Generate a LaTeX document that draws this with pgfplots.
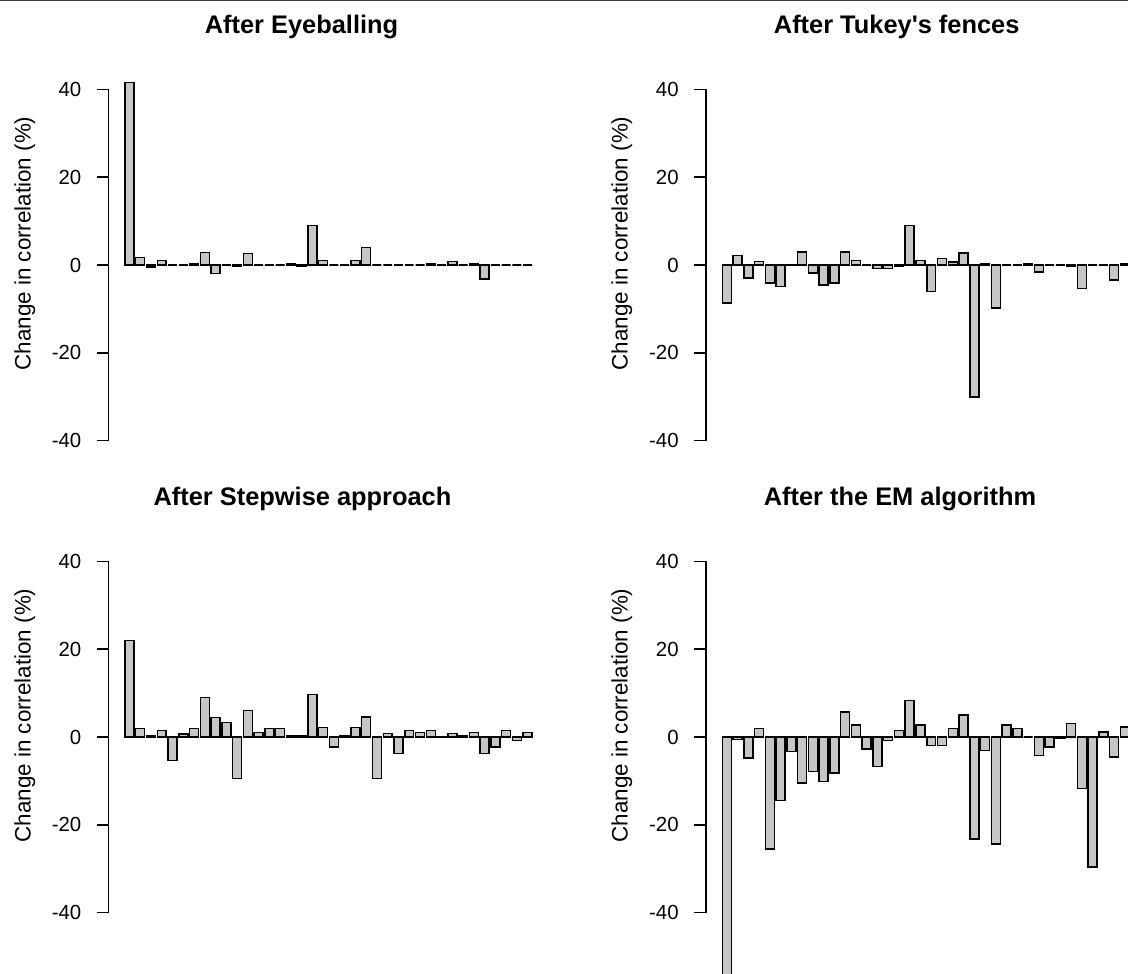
\documentclass[border=0pt]{standalone}
\usepackage{fontspec}
\setmainfont{Liberation Sans}
\usepackage{pgfplots}
\usepackage{pgfplotstable}
\pgfplotsset{compat=1.18}
\definecolor{barfill}{RGB}{198,198,198}
\pgfplotstableread{
x    a      b      c      d
0.7  41.5   -8.7   22.0   -57
1.9  1.75   2.2    1.9    -0.6
3.1  -0.5   -3.0   0.2    -4.8
4.3  1.07   0.84   1.45   1.9
5.5  0      -4.1   -5.3   -25.5
6.7  0      -4.9   0.7    -14.5
7.9  0.3    0.1    1.9    -3.3
9.1  2.9    3.0    9.0    -10.5
10.3 -1.9   -1.8   4.4    -7.8
11.5 0      -4.5   3.35   -10.1
12.7 -0.3   -4.1   -9.45  -8.2
13.9 2.6    3.0    6.0    5.7
15.1 0      1.07   1.07   2.7
16.3 0      0      1.9    -2.7
17.5 0      -0.76  1.9    -6.7
18.7 0.2    -0.76  0.2    -0.76
19.9 -0.3   -0.3   0.2    1.5
21.1 9.0    9.0    9.7    8.3
22.3 1.07   1.07   2.2    2.7
23.5 0      -6.0   -2.3   -1.9
24.7 0      1.45   0.3    -1.9
25.9 1.07   0.7    2.2    1.9
27.1 4.0    2.7    4.5    5.0
28.3 0      -30    -9.45  -23.2
29.5 0      0.3    0.76   -3.05
30.7 0      -9.8   -3.8   -24.4
31.9 0      0      1.45   2.7
33.1 0      0      1.07   1.9
34.3 0.3    0.3    1.45   0
35.5 0      -1.6   0.1    -4.2
36.7 0.76   0      0.76   -2.3
37.9 0      0      0.3    -0.3
39.1 0.3    -0.3   1.07   3.05
40.3 -3.2   -5.3   -3.8   -11.7
41.5 0      0      -2.3   -29.6
42.7 0      0      1.45   1.1
43.9 0      -3.4   -0.76  -4.6
45.1 0      0.3    1.07   2.3
}\data
\pgfplotsset{
  panel/.style={
    scale only axis, width=219.85pt, height=175.7pt,
    xmin=-1.616, xmax=47.416, ymin=-40, ymax=40, clip=false,
    axis x line=none, axis y line*=left,
    axis line style={line width=0.75pt,-,black},
    ytick={-40,-20,0,20,40},
    tick align=outside, major tick length=6pt,
    ytick style={line width=0.75pt,black},
    yticklabel style={font=\fontsize{10.2}{12}\selectfont, inner sep=0pt, anchor=east, xshift=-7.5pt},
    /pgf/number format/assume math mode=true,
    anchor=south west,
  },
  bars/.style={ybar, bar width=1, bar shift=0pt, fill=barfill, draw=black, line width=0.75pt},
}
\begin{document}
\begin{tikzpicture}[x=0.5pt,y=0.5pt]
\useasboundingbox (0,0) rectangle (1128,973);
\clip (0,0) rectangle (1128,973);
\fill[white] (0,0) rectangle (1128,973);
\draw[line width=0.75pt, black!75] (0,972.4) -- (1128,972.4);
% panel 1
\begin{axis}[panel, at={(54.35pt,266.15pt)}]
\addplot[bars] table[x=x,y=a]{\data};
\end{axis}
% panel 2
\begin{axis}[panel, at={(353pt,266.15pt)}]
\addplot[bars] table[x=x,y=b]{\data};
\end{axis}
% panel 3
\begin{axis}[panel, at={(54.35pt,30.15pt)}]
\addplot[bars] table[x=x,y=c]{\data};
\end{axis}
% panel 4
\begin{axis}[panel, at={(353pt,30.15pt)}]
\addplot[bars] table[x=x,y=d]{\data};
\end{axis}
% titles
\begin{scope}[every node/.style={font=\fontsize{12.7}{15}\selectfont\bfseries, inner sep=0pt, anchor=base}]
\node at (301.5,939.5) {After Eyeballing};
\node at (896.7,939.5) {After Tukey\textquotesingle s fences};
\node at (302.5,467.5) {After Stepwise approach};
\node at (900,467.5) {After the EM algorithm};
\end{scope}
% y labels
\begin{scope}[every node/.style={font=\fontsize{11.2}{13}\selectfont, inner sep=0pt, anchor=base, rotate=90}]
\node at (30.5,729.5) {Change in correlation (\%)};
\node at (627.5,729.5) {Change in correlation (\%)};
\node at (30.5,257.5) {Change in correlation (\%)};
\node at (627.5,257.5) {Change in correlation (\%)};
\end{scope}
\end{tikzpicture}
\end{document}
